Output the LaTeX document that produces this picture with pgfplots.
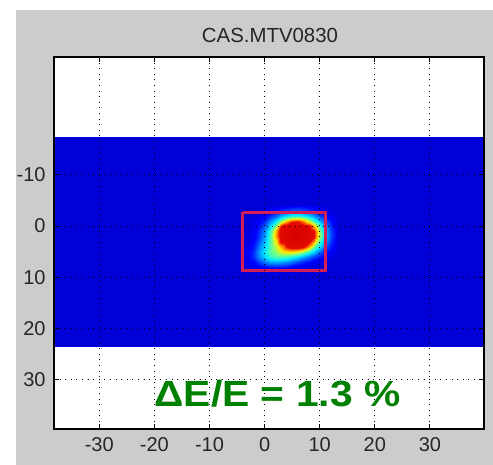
\documentclass[border=0pt]{standalone}
\usepackage{fontspec}
\setmainfont{Liberation Sans}
\usepackage{pgfplots}
\pgfplotsset{compat=1.18}
\definecolor{figgray}{RGB}{204,204,204}
\definecolor{bgblue}{RGB}{0,0,215}
\definecolor{boxred}{RGB}{210,30,85}
\definecolor{dgreen}{RGB}{0,128,0}
\begin{document}
\begin{tikzpicture}
\fill[white] (0,0) rectangle (246.5pt,-232.5pt);
\fill[figgray] (8pt,-5pt) rectangle (246.5pt,-232.5pt);
\path[use as bounding box] (0,0) rectangle (246.5pt,-232.5pt);
\node[font=\fontsize{10.2}{12}\selectfont, text=black!85, anchor=base] at (135pt,-21.5pt) {CAS.MTV0830};
\begin{axis}[
  at={(27pt,-28.5pt)}, anchor=north west,
  scale only axis, width=215pt, height=186pt,
  xmin=-38.2, xmax=39.8, ymin=-33, ymax=39.6, y dir=reverse,
  xtick={-30,-20,...,30}, ytick={-10,0,...,30},
  grid=major,
  major grid style={black, line width=0.5pt, dash pattern=on 0.5pt off 2.3pt},
  tick align=inside, major tick length=2.5pt, tick pos=both,
  axis line style={black, line width=0.6pt},
  every tick/.style={black, line width=0.5pt},
  axis on top,
  axis background/.style={fill=white},
  point meta min=0, point meta max=1,
  colormap={spot}{rgb255(0pt)=(0,0,215); rgb255(8pt)=(0,0,255); rgb255(20pt)=(0,120,255); rgb255(34pt)=(0,240,255); rgb255(48pt)=(120,255,130); rgb255(60pt)=(255,240,0); rgb255(72pt)=(255,110,0); rgb255(80pt)=(230,10,0); rgb255(100pt)=(210,0,0)},
  /pgf/number format/assume math mode=true,
  ticklabel style={font=\fontsize{10}{12}\selectfont, text=black!85},
  xticklabel style={inner sep=0pt, yshift=-4pt},
  yticklabel style={inner sep=0pt, xshift=-4pt},
]
\addplot[fill=bgblue, draw=none] coordinates {(-38.2,-17.3) (39.8,-17.3) (39.8,23.6) (-38.2,23.6)} -- cycle;
\addplot[surf, shader=interp, mesh/cols=19, point meta=explicit] table[row sep=\\, x=x, y=y, meta=v] {
x y v\\
-5 -4 0\\ -4 -4 0\\ -3 -4 0\\ -2 -4 0\\ -1 -4 0\\ 0 -4 0.01\\ 1 -4 0.02\\ 2 -4 0.03\\ 3 -4 0.05\\ 4 -4 0.07\\ 5 -4 0.07\\ 6 -4 0.08\\ 7 -4 0.07\\ 8 -4 0.06\\ 9 -4 0.04\\ 10 -4 0.03\\ 11 -4 0.01\\ 12 -4 0\\ 13 -4 0\\
-5 -3 0\\ -4 -3 0\\ -3 -3 0\\ -2 -3 0\\ -1 -3 0.01\\ 0 -3 0.03\\ 1 -3 0.06\\ 2 -3 0.1\\ 3 -3 0.12\\ 4 -3 0.15\\ 5 -3 0.18\\ 6 -3 0.18\\ 7 -3 0.16\\ 8 -3 0.13\\ 9 -3 0.11\\ 10 -3 0.07\\ 11 -3 0.04\\ 12 -3 0.02\\ 13 -3 0\\
-5 -2 0\\ -4 -2 0\\ -3 -2 0\\ -2 -2 0.01\\ -1 -2 0.03\\ 0 -2 0.08\\ 1 -2 0.12\\ 2 -2 0.18\\ 3 -2 0.27\\ 4 -2 0.34\\ 5 -2 0.38\\ 6 -2 0.39\\ 7 -2 0.36\\ 8 -2 0.3\\ 9 -2 0.23\\ 10 -2 0.14\\ 11 -2 0.09\\ 12 -2 0.05\\ 13 -2 0.02\\
-5 -1 0\\ -4 -1 0\\ -3 -1 0.01\\ -2 -1 0.03\\ -1 -1 0.07\\ 0 -1 0.12\\ 1 -1 0.22\\ 2 -1 0.34\\ 3 -1 0.5\\ 4 -1 0.66\\ 5 -1 0.76\\ 6 -1 0.78\\ 7 -1 0.7\\ 8 -1 0.55\\ 9 -1 0.4\\ 10 -1 0.26\\ 11 -1 0.15\\ 12 -1 0.09\\ 13 -1 0.04\\
-5 0 0\\ -4 0 0\\ -3 0 0.01\\ -2 0 0.04\\ -1 0 0.1\\ 0 0 0.18\\ 1 0 0.31\\ 2 0 0.5\\ 3 0 0.8\\ 4 0 0.86\\ 5 0 0.88\\ 6 0 0.89\\ 7 0 0.87\\ 8 0 0.84\\ 9 0 0.65\\ 10 0 0.38\\ 11 0 0.22\\ 12 0 0.12\\ 13 0 0.06\\
-5 1 0\\ -4 1 0\\ -3 1 0.02\\ -2 1 0.06\\ -1 1 0.12\\ 0 1 0.23\\ 1 1 0.4\\ 2 1 0.66\\ 3 1 0.86\\ 4 1 0.9\\ 5 1 0.94\\ 6 1 0.95\\ 7 1 0.92\\ 8 1 0.88\\ 9 1 0.8\\ 10 1 0.48\\ 11 1 0.28\\ 12 1 0.14\\ 13 1 0.08\\
-5 2 0\\ -4 2 0\\ -3 2 0.02\\ -2 2 0.07\\ -1 2 0.135\\ 0 2 0.25\\ 1 2 0.42\\ 2 2 0.68\\ 3 2 0.87\\ 4 2 0.91\\ 5 2 0.95\\ 6 2 0.97\\ 7 2 0.93\\ 8 2 0.88\\ 9 2 0.82\\ 10 2 0.5\\ 11 2 0.29\\ 12 2 0.15\\ 13 2 0.08\\
-5 3 0\\ -4 3 0.01\\ -3 3 0.03\\ -2 3 0.08\\ -1 3 0.16\\ 0 3 0.28\\ 1 3 0.42\\ 2 3 0.6\\ 3 3 0.84\\ 4 3 0.88\\ 5 3 0.9\\ 6 3 0.91\\ 7 3 0.89\\ 8 3 0.85\\ 9 3 0.7\\ 10 3 0.42\\ 11 3 0.25\\ 12 3 0.13\\ 13 3 0.07\\
-5 4 0.01\\ -4 4 0.02\\ -3 4 0.05\\ -2 4 0.11\\ -1 4 0.21\\ 0 4 0.31\\ 1 4 0.43\\ 2 4 0.54\\ 3 4 0.66\\ 4 4 0.8\\ 5 4 0.85\\ 6 4 0.85\\ 7 4 0.82\\ 8 4 0.66\\ 9 4 0.46\\ 10 4 0.31\\ 11 4 0.18\\ 12 4 0.1\\ 13 4 0.05\\
-5 5 0.01\\ -4 5 0.03\\ -3 5 0.07\\ -2 5 0.13\\ -1 5 0.24\\ 0 5 0.35\\ 1 5 0.44\\ 2 5 0.5\\ 3 5 0.56\\ 4 5 0.6\\ 5 5 0.6\\ 6 5 0.57\\ 7 5 0.5\\ 8 5 0.4\\ 9 5 0.29\\ 10 5 0.18\\ 11 5 0.11\\ 12 5 0.06\\ 13 5 0.03\\
-5 6 0.01\\ -4 6 0.03\\ -3 6 0.07\\ -2 6 0.13\\ -1 6 0.22\\ 0 6 0.31\\ 1 6 0.39\\ 2 6 0.43\\ 3 6 0.42\\ 4 6 0.4\\ 5 6 0.36\\ 6 6 0.31\\ 7 6 0.25\\ 8 6 0.19\\ 9 6 0.14\\ 10 6 0.1\\ 11 6 0.05\\ 12 6 0.03\\ 13 6 0.01\\
-5 7 0.01\\ -4 7 0.02\\ -3 7 0.04\\ -2 7 0.08\\ -1 7 0.14\\ 0 7 0.2\\ 1 7 0.25\\ 2 7 0.26\\ 3 7 0.25\\ 4 7 0.22\\ 5 7 0.19\\ 6 7 0.15\\ 7 7 0.12\\ 8 7 0.09\\ 9 7 0.06\\ 10 7 0.03\\ 11 7 0.02\\ 12 7 0\\ 13 7 0\\
-5 8 0\\ -4 8 0.01\\ -3 8 0.02\\ -2 8 0.04\\ -1 8 0.06\\ 0 8 0.08\\ 1 8 0.1\\ 2 8 0.11\\ 3 8 0.1\\ 4 8 0.09\\ 5 8 0.07\\ 6 8 0.05\\ 7 8 0.04\\ 8 8 0.02\\ 9 8 0.01\\ 10 8 0\\ 11 8 0\\ 12 8 0\\ 13 8 0\\
-5 9 0\\ -4 9 0\\ -3 9 0\\ -2 9 0.01\\ -1 9 0.02\\ 0 9 0.02\\ 1 9 0.03\\ 2 9 0.03\\ 3 9 0.02\\ 4 9 0.02\\ 5 9 0.01\\ 6 9 0\\ 7 9 0\\ 8 9 0\\ 9 9 0\\ 10 9 0\\ 11 9 0\\ 12 9 0\\ 13 9 0\\
-5 10 0\\ -4 10 0\\ -3 10 0\\ -2 10 0\\ -1 10 0\\ 0 10 0\\ 1 10 0\\ 2 10 0\\ 3 10 0\\ 4 10 0\\ 5 10 0\\ 6 10 0\\ 7 10 0\\ 8 10 0\\ 9 10 0\\ 10 10 0\\ 11 10 0\\ 12 10 0\\ 13 10 0\\
};
\addplot[draw=boxred, line width=1.4pt, mark=none] coordinates {(-4,-2.7) (11.1,-2.7) (11.1,8.6) (-4,8.6) (-4,-2.7)};
\end{axis}
\node[font=\fontsize{18.2}{20}\selectfont\bfseries, text=dgreen, anchor=base, inner sep=0pt] at (138.75pt,-203pt) {\scalebox{1.12}[1]{ΔE/E = 1.3 \%}};
\end{tikzpicture}
\end{document}
